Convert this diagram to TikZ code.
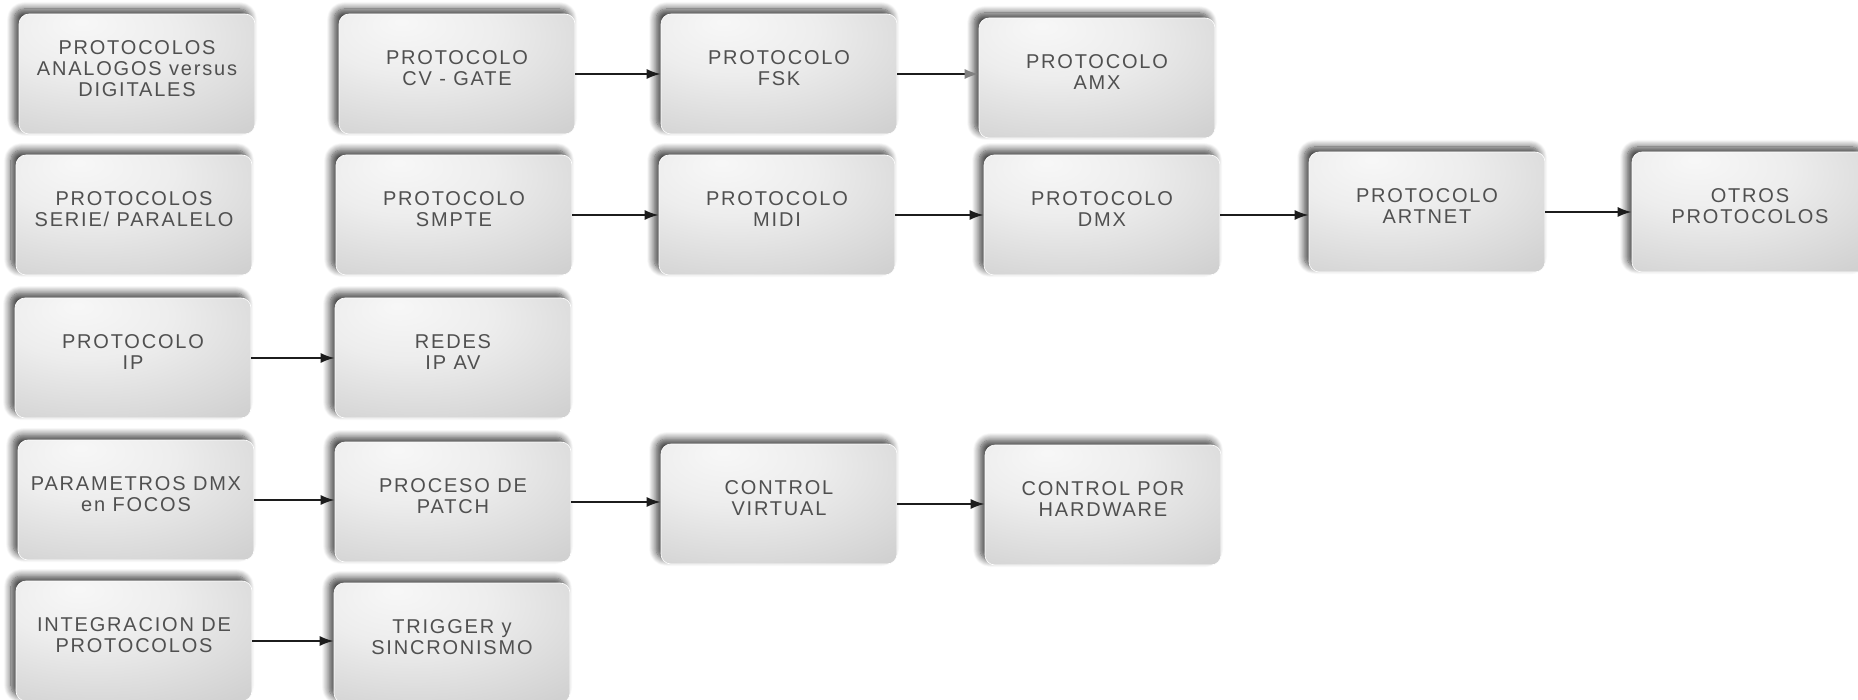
\documentclass[tikz,border=0pt]{standalone}
\usepackage{fontspec}
\setmainfont{Liberation Sans}[LetterSpace=9]
\usetikzlibrary{arrows.meta,shadows.blur}
\definecolor{txtgray}{RGB}{80,80,80}
\definecolor{arrowblack}{RGB}{28,28,28}
\pgfdeclareradialshading{boxshade}{\pgfpoint{-12bp}{22bp}}{color(0bp)=(white!97!black); color(18bp)=(white!93!black); color(45bp)=(white!82!black); color(62bp)=(white!78!black); color(95bp)=(white!74!black)}
\tikzset{
  tema/.style={rounded corners=10pt, minimum width=236pt, minimum height=120pt, shading=boxshade, draw=white, line width=0.6pt,
    blur shadow={shadow xshift=-5pt, shadow yshift=5pt, shadow blur radius=7pt, shadow blur steps=10, shadow opacity=75},
    text=txtgray, align=center, font=\fontsize{20}{21}\selectfont, text depth=11pt},
  flecha/.style={-{Latex[length=14pt,width=10pt]}, line width=1.9pt, arrowblack}
}
\begin{document}
\begin{tikzpicture}[x=1pt,y=1pt,yscale=-1,xscale=1]
\useasboundingbox (0,0) rectangle (1858,700);
\clip (0,0) rectangle (1858,700);
% fila 1
\node[tema] (analog) at (137,74) {PROTOCOLOS\\ANALOGOS versus\\DIGITALES};
\node[tema] (cvgate) at (457,74) {PROTOCOLO\\CV - GATE};
\node[tema] (fsk) at (779,74) {PROTOCOLO\\FSK};
\node[tema] (amx) at (1097,78) {PROTOCOLO\\AMX};
% fila 2
\node[tema] (serie) at (134,215) {PROTOCOLOS\\SERIE/ PARALELO};
\node[tema] (smpte) at (454,215) {PROTOCOLO\\SMPTE};
\node[tema] (midi) at (777,215) {PROTOCOLO\\MIDI};
\node[tema] (dmx) at (1102,215) {PROTOCOLO\\DMX};
\node[tema] (artnet) at (1427,212) {PROTOCOLO\\ARTNET};
\node[tema] (otros) at (1750,212) {OTROS\\PROTOCOLOS};
% fila 3
\node[tema] (ip) at (133,358) {PROTOCOLO\\IP};
\node[tema] (redes) at (453,358) {REDES\\IP AV};
% fila 4
\node[tema] (param) at (136,500) {PARAMETROS DMX\\en FOCOS};
\node[tema] (patch) at (453,502) {PROCESO DE\\PATCH};
\node[tema] (virtual) at (779,504) {CONTROL\\VIRTUAL};
\node[tema] (hardware) at (1103,505) {CONTROL POR\\HARDWARE};
% fila 5
\node[tema] (integ) at (134,641) {INTEGRACION DE\\PROTOCOLOS};
\node[tema] (trigger) at (452,643) {TRIGGER y\\SINCRONISMO};
% flechas
\draw[flecha] (cvgate.east) -- (fsk.west |- cvgate.east);
\draw[-{Latex[length=14pt,width=10pt,color=gray]}, line width=1.9pt, arrowblack] (fsk.east) -- (amx.west |- fsk.east);
\draw[flecha] (smpte.east) -- (midi.west |- smpte.east);
\draw[flecha] (midi.east) -- (dmx.west |- midi.east);
\draw[flecha] (dmx.east) -- (artnet.west |- dmx.east);
\draw[flecha] (artnet.east) -- (otros.west |- artnet.east);
\draw[flecha] (ip.east) -- (redes.west |- ip.east);
\draw[flecha] (param.east) -- (patch.west |- param.east);
\draw[flecha] (patch.east) -- (virtual.west |- patch.east);
\draw[flecha] (virtual.east) -- (hardware.west |- virtual.east);
\draw[flecha] (integ.east) -- (trigger.west |- integ.east);
\end{tikzpicture}
\end{document}
